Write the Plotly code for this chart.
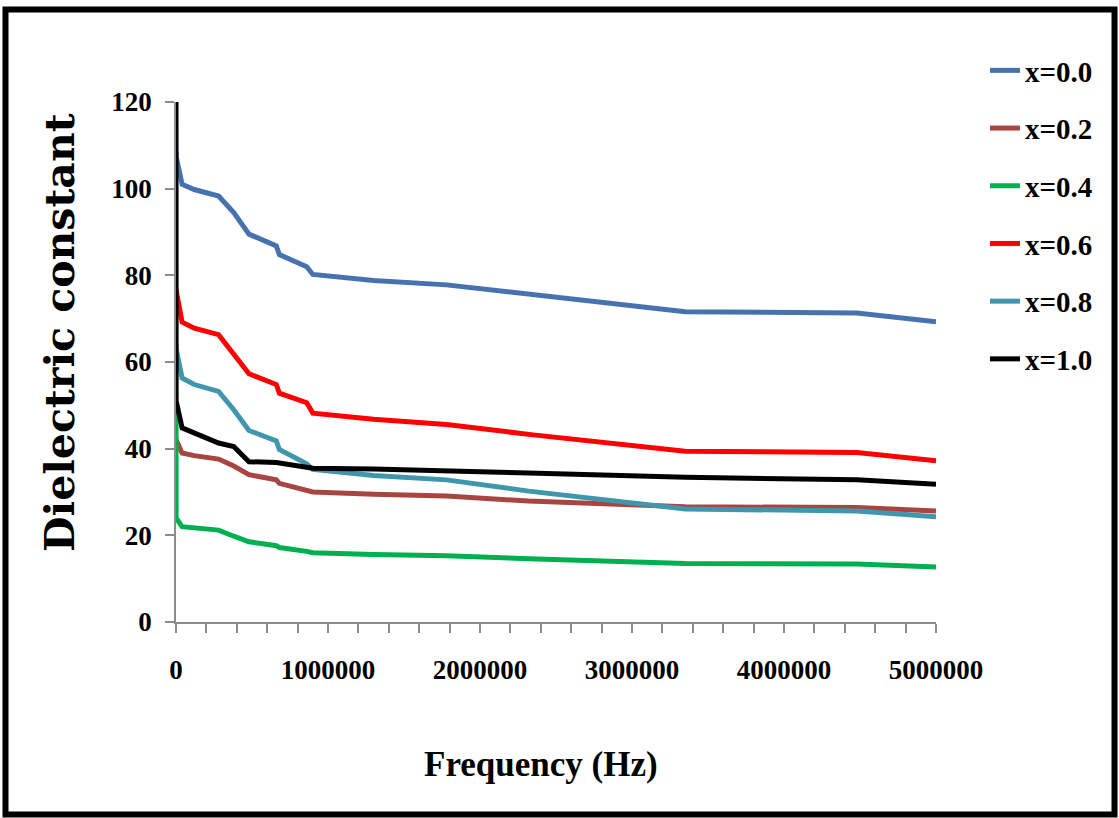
import plotly.graph_objects as go

# Frequency (Hz) shared by all series
freq = [100, 1000, 40000, 120000, 280000, 380000, 480000, 660000, 680000,
        860000, 900000, 1300000, 1780000, 2320000, 3350000, 4480000, 5000000]

x00 = [108.5, 107.5, 101.0, 99.8, 98.3, 94.5, 89.5, 86.8, 84.8, 82.0, 80.2, 78.8, 77.8, 75.6, 71.6, 71.3, 69.3]
x02 = [42.3, 42.0, 39.0, 38.4, 37.6, 36.0, 34.0, 32.8, 32.0, 30.5, 30.0, 29.5, 29.1, 27.9, 26.6, 26.4, 25.6]
x04 = [49.5, 24.0, 22.0, 21.7, 21.2, 19.8, 18.5, 17.6, 17.2, 16.3, 16.0, 15.6, 15.3, 14.6, 13.5, 13.4, 12.7]
x06 = [77.0, 76.5, 69.2, 67.8, 66.3, 62.0, 57.3, 54.8, 52.8, 50.6, 48.2, 46.8, 45.6, 43.3, 39.4, 39.1, 37.2]
x08 = [64.0, 63.0, 56.3, 54.8, 53.2, 49.0, 44.2, 41.8, 39.8, 36.5, 35.2, 33.8, 32.8, 30.2, 26.1, 25.6, 24.3]
x10 = [120.0, 51.0, 44.8, 43.7, 41.3, 40.5, 37.0, 36.8, 36.7, 35.8, 35.5, 35.3, 35.0, 34.4, 33.4, 32.8, 31.8]

names = ["x=0.0", "x=0.2", "x=0.4", "x=0.6", "x=0.8", "x=1.0"]
series = [x00, x02, x04, x06, x08, x10]
colors = ["#4672b0", "#a94540", "#00b050", "#ff0000", "#4097ad", "#000000"]

y_ticks = [0, 20, 40, 60, 80, 100, 120]
x_ticks = [0, 1000000, 2000000, 3000000, 4000000, 5000000]

W, H = 1119, 818
L, R, T, B = 176, 936, 102, 622

fig = go.Figure()
for n, s, c in zip(names, series, colors):
    fig.add_trace(go.Scatter(x=freq, y=s, mode="lines", name=n, legendgroup=n,
                             line=dict(color=c, width=5)))

def px(xp):
    return (xp - L) / (R - L)

def py(yp):
    return (B - yp) / (B - T)

axis_gray = "#8c8c8c"
tick_font = dict(family="Liberation Serif", size=27, color="#000000", weight="bold")

fig.update_layout(
    width=W, height=H,
    margin=dict(l=L, r=W - R, t=T, b=H - B, autoexpand=False),
    paper_bgcolor="white", plot_bgcolor="white",
    showlegend=True,
    legend=dict(x=px(985), y=py(45), xanchor="left", yanchor="top",
                font=dict(family="Liberation Serif", size=29, color="#000000", weight="bold"),
                tracegroupgap=17, bgcolor="rgba(0,0,0,0)", itemwidth=30),
    xaxis=dict(range=[0, 5000000], tickvals=x_ticks, ticktext=[str(v) for v in x_ticks],
               showgrid=False, zeroline=False, showline=True, linecolor=axis_gray, linewidth=1.5,
               ticks="outside", ticklen=9, tickcolor=axis_gray, tickwidth=1.5,
               minor=dict(dtick=200000, ticks="outside", ticklen=9, tickcolor=axis_gray, tickwidth=1.5),
               tickfont=tick_font, ticklabelstandoff=14, fixedrange=True),
    yaxis=dict(range=[0, 120], tickvals=y_ticks, showgrid=False, zeroline=False,
               showline=True, linecolor=axis_gray, linewidth=1.5,
               ticks="outside", ticklen=9, tickcolor=axis_gray, tickwidth=1.5,
               tickfont=tick_font, ticklabelstandoff=8, fixedrange=True),
    shapes=[dict(type="rect", xref="paper", yref="paper",
                 x0=px(5.5), x1=px(1114.5), y0=py(814.5), y1=py(9.5),
                 line=dict(color="#000000", width=6), fillcolor="rgba(0,0,0,0)", layer="above")],
    annotations=[
        dict(text="Dielectric constant", xref="paper", yref="paper",
             x=px(60), y=py(333), xanchor="center", yanchor="middle", textangle=-90,
             showarrow=False,
             font=dict(family="DejaVu Serif", size=41, color="#000000", weight="bold")),
        dict(text="Frequency (Hz)", xref="paper", yref="paper",
             x=px(541), y=py(764), xanchor="center", yanchor="middle",
             showarrow=False,
             font=dict(family="Liberation Serif", size=35, color="#000000", weight="bold")),
    ],
)

fig.write_html("out.html", config={"displayModeBar": False},
               post_script="document.body.style.margin='0';document.body.style.overflow='hidden';")
